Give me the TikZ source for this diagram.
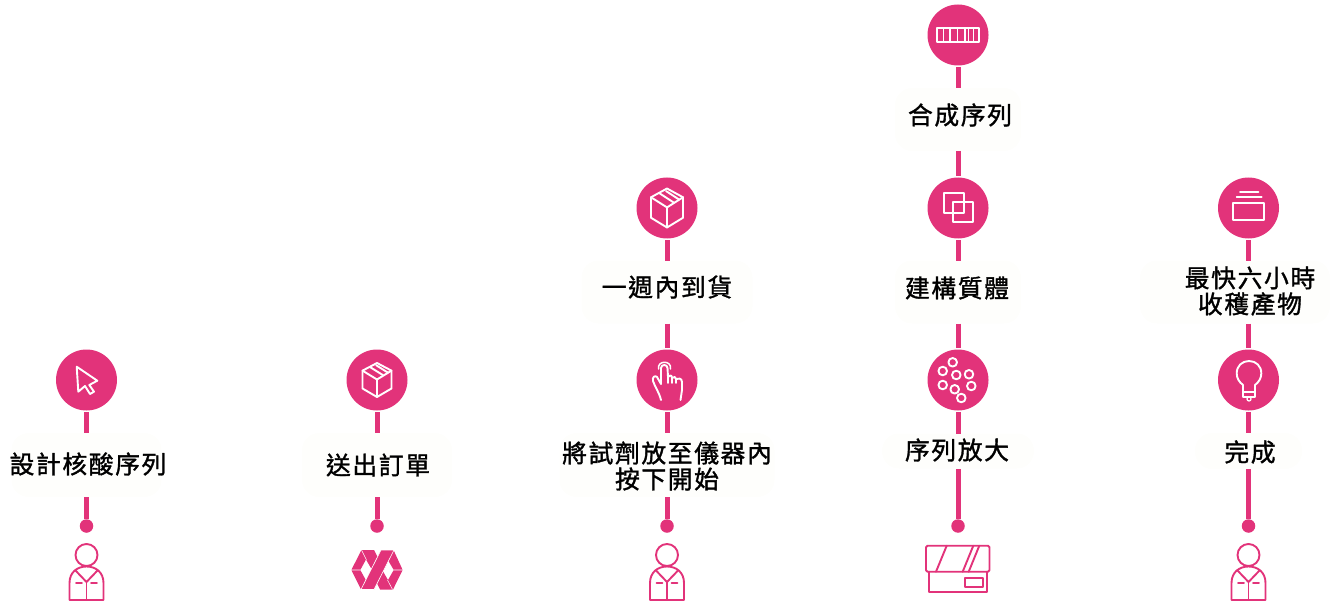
\documentclass[tikz,border=0pt]{standalone}
\usepackage{fontspec}
\newfontfamily\cjk[LetterSpace=6.5,FakeBold=1.3]{Noto Sans CJK TC}
\definecolor{rose}{HTML}{E2337A}
\definecolor{pale}{HTML}{FEFEFC}
\tikzset{
  x=1pt,y=-1pt,
  disc/.style={circle,fill=rose,minimum size=61,inner sep=0,outer sep=1.5},
  pill/.style={rectangle,rounded corners=17,fill=pale,inner sep=0,outer sep=0},
  tagtext/.style={font=\cjk\fontsize{24.8}{26}\selectfont,align=center,inner sep=0,text=black},
  link/.style={draw=rose,line width=5},
  knob/.style={circle,fill=rose,minimum size=13.5,inner sep=0},
  wht/.style={draw=white,line width=1.9,line join=round,line cap=round},
  pnk/.style={draw=rose,line width=1.9,line join=round,line cap=round}
}
\newcommand{\personicon}[1]{%
  \begin{scope}[shift={(#1,0)},pnk]
    \draw (0,555) circle[radius=11];
    \draw (-17,600) -- (-17,583) .. controls (-17,572) and (-9,566.5) .. (0,566.5)
      .. controls (9,566.5) and (17,572) .. (17,583) -- (17,600) -- cycle;
    \draw (-11,570.5) -- (0,582) -- (11,570.5);
    \draw (0,582) -- (0,600);
    \draw (-10.5,583) -- (-4.5,583);
    \draw (4.5,583) -- (10.5,583);
  \end{scope}}
\newcommand{\cubeicon}[4]{% cx cy sx sy
  \begin{scope}[shift={(#1,#2)},x=#3pt,y=-#4pt,wht]
    \draw (0,-1) -- (1,-.55) -- (1,.5) -- (0,1) -- (-1,.5) -- (-1,-.55) -- cycle;
    \draw (-1,-.55) -- (0,-.03) -- (1,-.55);
    \draw (0,-.03) -- (0,1);
    \draw (-.46,-.75) -- (.42,-.28);
    \draw (-.06,-.87) -- (.76,-.43);
  \end{scope}}
\begin{document}
\begin{tikzpicture}
\useasboundingbox (0,0) rectangle (1330,604);
% discs
\node[disc] (c1) at (86.5,380) {};
\node[disc] (c2) at (377,380) {};
\node[disc] (c3a) at (667,208) {};
\node[disc] (c3b) at (667,380) {};
\node[disc] (c4a) at (958,35) {};
\node[disc] (c4b) at (958,208) {};
\node[disc] (c4c) at (958,380) {};
\node[disc] (c5a) at (1248.5,208) {};
\node[disc] (c5b) at (1248.5,380) {};
% pills
\node[pill,minimum width=150,minimum height=64] (p1) at (86.5,465) {};
\node[pill,minimum width=150,minimum height=64] (p2) at (377,465) {};
\node[pill,minimum width=171,minimum height=63] (p3a) at (667,292) {};
\node[pill,minimum width=215,minimum height=64] (p3b) at (667,465) {};
\node[pill,minimum width=126,minimum height=63] (p4a) at (958,119.5) {};
\node[pill,minimum width=126,minimum height=63] (p4b) at (958,292) {};
\node[pill,minimum width=152,minimum height=35] (p4c) at (958,451) {};
\node[pill,minimum width=190,minimum height=63] (p5a) at (1235,292) {};
\node[pill,minimum width=107,minimum height=36] (p5b) at (1248.5,451) {};
% knobs
\node[knob] (d1) at (86.5,526) {};
\node[knob] (d2) at (377,526) {};
\node[knob] (d3) at (667,526) {};
\node[knob] (d4) at (958,526) {};
\node[knob] (d5) at (1248.5,526) {};
% links
\path[link] (c1.south) -- (c1.south |- p1.north);
\path[link] (c1.south |- p1.south) -- (d1);
\path[link] (c2.south) -- (c2.south |- p2.north);
\path[link] (c2.south |- p2.south) -- (d2);
\path[link] (c3a.south) -- (c3a.south |- p3a.north);
\path[link] (c3a.south |- p3a.south) -- (c3b.north);
\path[link] (c3b.south) -- (c3b.south |- p3b.north);
\path[link] (c3b.south |- p3b.south) -- (d3);
\path[link] (c4a.south) -- (c4a.south |- p4a.north);
\path[link] (c4a.south |- p4a.south) -- (c4b.north);
\path[link] (c4b.south) -- (c4b.south |- p4b.north);
\path[link] (c4b.south |- p4b.south) -- (c4c.north);
\path[link] (c4c.south) -- (c4c.south |- p4c.north);
\path[link] (c4c.south |- 0,469) -- (d4);
\path[link] (c5a.south) -- (c5a.south |- p5a.north);
\path[link] (c5a.south |- p5a.south) -- (c5b.north);
\path[link] (c5b.south) -- (c5b.south |- p5b.north);
\path[link] (c5b.south |- p5b.south) -- (d5);
% labels
\node[tagtext] (t1) at (88,464) {設計核酸序列};
\node[tagtext] (t2) at (378,465) {送出訂單};
\node[tagtext] (t3a) at (667,287) {一週內到貨};
\node[tagtext] (t3b) at (667,466) {\fontsize{24.8}{28}\selectfont 將試劑放至儀器內\\按下開始};
\node[tagtext] (t4a) at (960,115) {合成序列};
\node[tagtext] (t4b) at (957,288) {建構質體};
\node[tagtext] (t4c) at (957,450) {序列放大};
\node[tagtext] (t5a) at (1250,291) {最快六小時\\收穫產物};
\node[tagtext] (t5b) at (1250,452) {完成};
% cursor
\draw[wht] (76.7,366.7) -- (97.3,380.7) -- (89.3,385) -- (94,391.7) -- (90,394) -- (85,386) -- (78.3,391.7) -- cycle;
% cubes
\cubeicon{377}{380}{14.5}{17}
\cubeicon{667}{208}{16}{19.5}
% hand
\draw[wht] (661,400) .. controls (659,392) and (655,387) .. (653,381) .. controls (652,377) and (655,375) .. (657,377)
  -- (661,384) -- (661,368) .. controls (661,364) and (667.5,364) .. (667.5,368) -- (668,377)
  .. controls (670,375) and (672,375) .. (672,378) .. controls (674,376) and (676,377) .. (676,379)
  .. controls (678,378) and (682,378) .. (682,382) -- (682,390) -- (680.5,400);
\draw[wht] (668,377) -- (668,383);
\draw[wht] (672,378) -- (672,383);
\draw[wht] (676,379) -- (676,383);
\draw[wht,line width=1.5] (658.5,369) .. controls (657,360) and (672,360) .. (670.5,369);
% sequence bar
\draw[wht] (937.3,28.3) rectangle (979.3,41.7);
\foreach \u in {943.3,950,957.7,965,968.3,973.3} \draw[wht,line width=1.5] (\u,28.3) -- (\u,41.7);
% squares
\draw[wht] (944,193.3) rectangle (964.3,213.3);
\draw[wht] (952.7,201.7) rectangle (972.7,221.7);
% beads
\foreach \u/\v in {952.7/362.3,942.7/371,956.3/375,969/374.3,942.7/385,954.7/389.3,971.3/386,961.3/398}
  \draw[wht] (\u,\v) circle[radius=4.3];
% tray
\draw[wht] (1233.3,203.3) rectangle (1264.3,220);
\draw[wht] (1236.7,197.3) -- (1261.7,197.3);
\draw[wht] (1240,191.7) -- (1258.3,191.7);
% bulb
\draw[wht] (1243,391.7) -- (1243,385) .. controls (1239,382) and (1236.7,378) .. (1236.7,373.3)
  .. controls (1236.7,366) and (1242,361) .. (1249,361) .. controls (1256,361) and (1261.3,366) .. (1261.3,373.3)
  .. controls (1261.3,378) and (1259,382) .. (1255,385) -- (1255,391.7);
\draw[wht] (1242.7,391.7) rectangle (1255,396.7);
\draw[wht,line width=1.2] (1249,399) circle[radius=2];
% persons
\personicon{86.5}
\personicon{667}
\personicon{1248.5}
% logo
\fill[rose] (351.5,569.6) -- (361.5,550) -- (374,550) -- (377.5,557) -- (371.4,568.8) -- (366,559.5) -- (360.5,569.6) -- cycle;
\fill[rose] (351.5,570.4) -- (360.5,570.4) -- (365.8,580) -- (361,589.5) -- cycle;
\fill[rose] (402.5,569.6) -- (393.5,550) -- (388.2,560.5) -- (393.5,569.6) -- cycle;
\fill[rose] (402.5,570.4) -- (393,589.5) -- (380,589.5) -- (376.5,582.5) -- (382.6,570.7) -- (388,580) -- (393.5,570.4) -- cycle;
\draw[white,line width=.5] (361.5,550) -- (366.5,560);
\draw[white,line width=.5] (392.5,589.5) -- (387.5,580);
\filldraw[fill=rose,draw=white,line width=.6] (361,589.5) -- (374,589.5) -- (394,550) -- (381,550) -- cycle;
% crate
\begin{scope}[pnk]
  \draw[rounded corners=1.5] (926,545.7) rectangle (989.5,571.7);
  \draw (929,571.7) -- (929,591.7) -- (986.7,591.7) -- (986.7,571.7);
  \draw (965,577.7) rectangle (983.3,587.3);
  \draw (946.7,545.7) -- (936,571.7);
  \draw (973.3,545.7) -- (962.7,571.7);
  \draw (979.3,545.7) -- (968.7,571.7);
\end{scope}
\end{tikzpicture}
\end{document}
